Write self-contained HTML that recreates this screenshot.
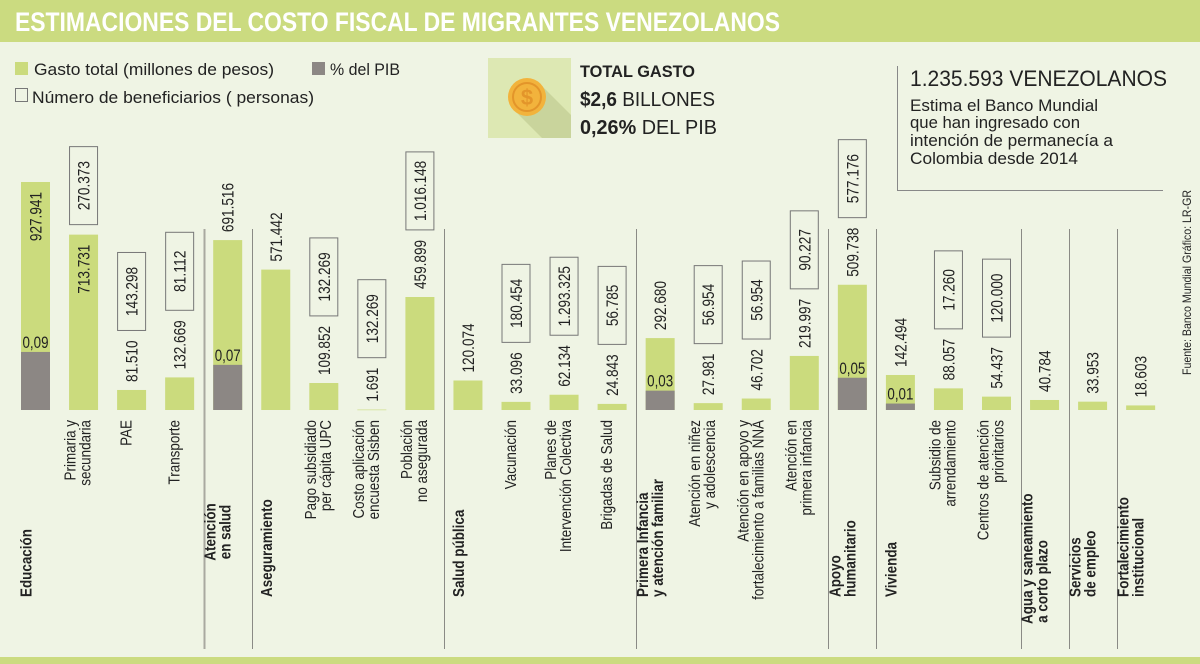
<!DOCTYPE html>
<html><head><meta charset="utf-8"><style>
body{margin:0;background:#eff4e4}
svg{display:block}
text{font-family:"Liberation Sans Narrow","Liberation Sans",sans-serif}
</style></head><body>
<svg id="chart" width="1200" height="664" viewBox="0 0 1200 664" xmlns="http://www.w3.org/2000/svg">
<rect x="0" y="0" width="1200" height="664" fill="#eff4e4"/>
<rect x="0" y="0" width="1200" height="42" fill="#cbdb80"/>
<text x="15" y="31" fill="#fff" font-weight="bold" font-size="27" textLength="765" lengthAdjust="spacingAndGlyphs">ESTIMACIONES DEL COSTO FISCAL DE MIGRANTES VENEZOLANOS</text>
<rect x="0" y="657" width="1200" height="7" fill="#cbdb80"/>

<g>
<rect x="15" y="62" width="13" height="13" fill="#cbdb7d"/>
<text x="34" y="75" font-size="17" fill="#222" textLength="240" lengthAdjust="spacingAndGlyphs">Gasto total (millones de pesos)</text>
<rect x="312" y="62" width="13" height="13" fill="#8c8784"/>
<text x="330" y="75" font-size="17" fill="#222" textLength="70" lengthAdjust="spacingAndGlyphs">% del PIB</text>
<rect x="15.5" y="88.5" width="12" height="13" fill="none" stroke="#777"/>
<text x="32" y="103" font-size="17" fill="#222" textLength="282" lengthAdjust="spacingAndGlyphs">Número de beneficiarios ( personas)</text>
</g>

<g>
<rect x="488" y="58" width="83" height="80" fill="#dde8b3"/>
<polygon points="514,110 540,84 571,115 571,138 542,138" fill="#c9d49c"/>
<circle cx="527" cy="97" r="19" fill="#f2b33c"/>
<circle cx="527" cy="97" r="14" fill="none" stroke="#e3952a" stroke-width="2"/>
<text x="527" y="105" font-size="22" font-weight="bold" fill="#e3952a" text-anchor="middle">$</text>
<text x="580" y="77" font-size="17" font-weight="bold" fill="#222" textLength="115" lengthAdjust="spacingAndGlyphs">TOTAL GASTO</text>
<text x="580" y="106" font-size="20" fill="#222" textLength="135" lengthAdjust="spacingAndGlyphs"><tspan font-weight="bold">$2,6</tspan> BILLONES</text>
<text x="580" y="134" font-size="20" fill="#222" textLength="137" lengthAdjust="spacingAndGlyphs"><tspan font-weight="bold">0,26%</tspan> DEL PIB</text>
</g>

<g>
<path d="M897.5 66 V190.5 H1163" fill="none" stroke="#888" stroke-width="1"/>
<text x="910" y="86" font-size="22" fill="#222" textLength="257" lengthAdjust="spacingAndGlyphs">1.235.593 VENEZOLANOS</text>
<text x="910" y="111" font-size="17" fill="#222" textLength="188" lengthAdjust="spacingAndGlyphs">Estima el Banco Mundial</text>
<text x="910" y="128" font-size="17" fill="#222" textLength="170" lengthAdjust="spacingAndGlyphs">que han ingresado con</text>
<text x="910" y="146" font-size="17" fill="#222" textLength="203" lengthAdjust="spacingAndGlyphs">intención de permanecía a</text>
<text x="910" y="164" font-size="17" fill="#222" textLength="168" lengthAdjust="spacingAndGlyphs">Colombia desde 2014</text>
</g>
<text transform="translate(1191,375) rotate(-90)" font-size="12" fill="#222" textLength="185" lengthAdjust="spacingAndGlyphs">Fuente: Banco Mundial   Gráfico: LR-GR</text>

<g id="plot"></g>
</svg>
<script>
const subLabels = [["Educación"],["Primaria y","secundaria"],["PAE"],["Transporte"],["Atención","en salud"],["Aseguramiento"],["Pago subsidiado","per cápita UPC"],["Costo aplicación","encuesta Sisben"],["Población","no asegurada"],["Salud pública"],["Vacunación"],["Planes de","Intervención Colectiva"],["Brigadas de Salud"],["Primera Infancia","y atención familiar"],["Atención en niñez","y adolescencia"],["Atención en apoyo y","fortalecimiento a familias NNA"],["Atención en","primera infancia"],["Apoyo","humanitario"],["Vivienda"],["Subsidio de","arrendamiento"],["Centros de atención","prioritarios"],["Agua y saneamiento","a corto plazo"],["Servicios","de empleo"],["Fortalecimiento","institucional"]];
const isCategory = [1,0,0,0,1,1,0,0,0,1,0,0,0,1,0,0,0,1,1,0,0,1,1,1];
const gasto = [927941,713731,81510,132669,691516,571442,109852,1691,459899,120074,33096,62134,24843,292680,27981,46702,219997,509738,142494,88057,54437,40784,33953,18603];
const pib = [0.09,null,null,null,0.07,null,null,null,null,null,null,null,null,0.03,null,null,null,0.05,0.01,null,null,null,null,null];
const beneficiarios = [null,270373,143298,81112,null,null,132269,132269,1016148,null,180454,1293325,56785,null,56954,56954,90227,577176,null,17260,120000,null,null,null];
const separators = [4,5,9,13,17,18,21,22,23];

const NS="http://www.w3.org/2000/svg";
const plot=document.getElementById('plot');
const baseY=410, barW=29;
const yScale=v=>v*228/927941;
const pibScale=v=>v*645;
const xCenter=i=>35.5+i*48.05;
const fmt=v=>v.toString().replace(/\B(?=(\d{3})+(?!\d))/g,'.');
const fmtP=v=>v.toFixed(2).replace('.',',');
const textLen=s=>{let l=0;for(const c of s)l+=(c==='.'||c===',')?3.5:7.6;return l;};
function mk(tag,attrs,txt){const e=document.createElementNS(NS,tag);for(const k in attrs)e.setAttribute(k,attrs[k]);if(txt!=null)e.textContent=txt;plot.appendChild(e);return e;}

separators.forEach((s,k)=>{
  const x=Math.round(xCenter(s)-24)+0.5;
  const l=mk('line',{x1:x,x2:x,y1:229,y2:649,stroke:k===0?'#a9a9a0':'#8a8a85','stroke-width':k===0?2:1});
  
  
});

gasto.forEach((v,i)=>{
  const cx=xCenter(i), h=yScale(v), top=baseY-h;
  const bar=mk('rect',{x:cx-barW/2,y:top,width:barW,height:Math.max(h,0.6),fill:'#cbdb7d'});
  
  
  const s=fmt(v), L=textLen(s);
  const inside = i<2;
  const lb = inside ? top+10+L : top-8;
  const vt=mk('text',{transform:`translate(${cx+6},${lb}) rotate(-90)`,'font-size':17,fill:'#222',textLength:L,lengthAdjust:'spacingAndGlyphs'},s);
  
  
  const labTop = inside ? top : lb-L;
  if(pib[i]!=null){
    const ph=pibScale(pib[i]);
    const pr=mk('rect',{x:cx-barW/2,y:baseY-ph,width:barW,height:ph,fill:'#8c8784'});
    
    
    const pt=mk('text',{x:cx,y:baseY-ph-4,'font-size':17,fill:'#222','text-anchor':'middle',textLength:26,lengthAdjust:'spacingAndGlyphs'},fmtP(pib[i]));
    
    
  }
  if(beneficiarios[i]!=null){
    const bb=labTop-10, bh=78;
    const br=mk('rect',{x:cx-barW/2+0.5,y:bb-bh,width:barW-1,height:bh,fill:'none',stroke:'#777','stroke-width':1});
    
    
    const bs=fmt(beneficiarios[i]);
    const bt=mk('text',{transform:`translate(${cx+6},${bb-bh/2}) rotate(-90)`,'font-size':17,fill:'#222','text-anchor':'middle',textLength:textLen(bs),lengthAdjust:'spacingAndGlyphs'},bs);
    
    
  }
  const lines=subLabels[i];
  lines.forEach((t,j)=>{
    let bx, by, anchor, weight;
    if(isCategory[i]){
      weight='bold';
      bx = lines.length===1 ? cx-4 : cx-12+j*15;
      if(i===4){by=532;anchor='middle';}
      else if(i===21){by = j===0?624:540; anchor=j===0?'start':'end';}
      else {by=597;anchor='start';}
    } else {
      weight='normal';
      bx = lines.length===1 ? cx : cx-8+j*15;
      by=420; anchor='end';
    }
    const lt=mk('text',{transform:`translate(${bx},${by}) rotate(-90) scale(0.84,1)`,'font-size':isCategory[i]?16:16,'font-weight':weight,fill:'#222','text-anchor':anchor},t);
    
    
  });
});
</script>
</body></html>
